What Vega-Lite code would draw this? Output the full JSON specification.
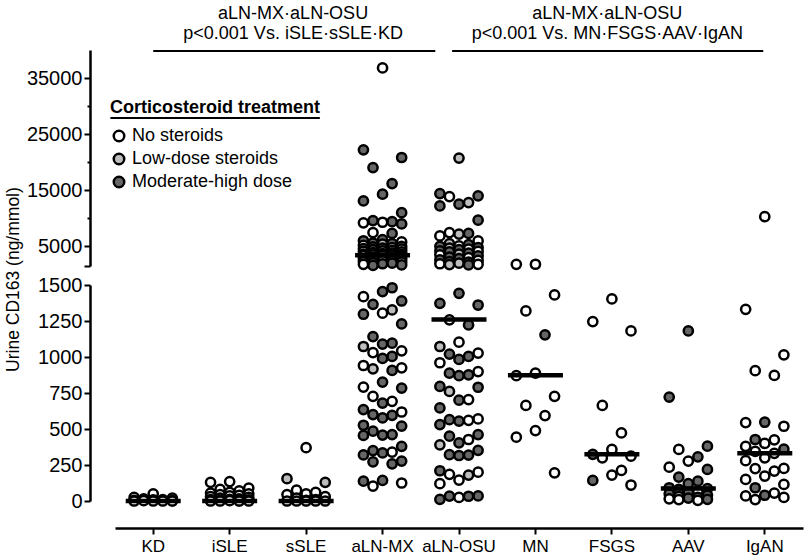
{
  "$schema": "https://vega.github.io/schema/vega-lite/v6.json",
  "padding": {"left": 4, "top": 5, "right": 2, "bottom": 2},
  "bounds": "flush",
  "config": {
    "font": "Liberation Sans",
    "view": {"stroke": null},
    "axis": {"domainColor": "black", "tickColor": "black", "labelColor": "black", "grid": false, "domainWidth": 2.5, "tickWidth": 2, "labelFont": "Liberation Sans"},
    "legend": {"labelFont": "Liberation Sans", "titleFont": "Liberation Sans"}
  },
  "title": {"text": "Urine CD163 (ng/mmol)", "orient": "left", "anchor": "middle", "fontSize": 17.5, "fontWeight": "normal", "color": "black", "offset": 4},
  "datasets": {
    "pts": [
      {"g":"KD","v":50,"s":"N"},{"g":"KD","v":25,"s":"N"},{"g":"KD","v":20,"s":"N"},{"g":"KD","v":15,"s":"N"},{"g":"KD","v":10,"s":"N"},{"g":"KD","v":8,"s":"N"},{"g":"KD","v":5,"s":"N"},{"g":"KD","v":3,"s":"N"},{"g":"KD","v":2,"s":"N"},{"g":"KD","v":0,"s":"N"},{"g":"KD","v":0,"s":"N"},{"g":"KD","v":0,"s":"N"},{"g":"KD","v":0,"s":"N"},
      {"g":"iSLE","v":135,"s":"N"},{"g":"iSLE","v":130,"s":"N"},{"g":"iSLE","v":90,"s":"N"},{"g":"iSLE","v":80,"s":"N"},{"g":"iSLE","v":70,"s":"N"},{"g":"iSLE","v":60,"s":"N"},{"g":"iSLE","v":55,"s":"N"},{"g":"iSLE","v":50,"s":"N"},{"g":"iSLE","v":45,"s":"N"},{"g":"iSLE","v":40,"s":"N"},{"g":"iSLE","v":35,"s":"N"},{"g":"iSLE","v":30,"s":"N"},{"g":"iSLE","v":25,"s":"N"},{"g":"iSLE","v":20,"s":"N"},{"g":"iSLE","v":15,"s":"N"},{"g":"iSLE","v":12,"s":"N"},{"g":"iSLE","v":10,"s":"N"},{"g":"iSLE","v":8,"s":"N"},{"g":"iSLE","v":5,"s":"N"},{"g":"iSLE","v":3,"s":"N"},{"g":"iSLE","v":2,"s":"N"},{"g":"iSLE","v":0,"s":"N"},{"g":"iSLE","v":0,"s":"N"},{"g":"iSLE","v":0,"s":"N"},{"g":"iSLE","v":0,"s":"N"},
      {"g":"sSLE","v":370,"s":"N"},{"g":"sSLE","v":155,"s":"L"},{"g":"sSLE","v":130,"s":"L"},{"g":"sSLE","v":75,"s":"N"},{"g":"sSLE","v":60,"s":"N"},{"g":"sSLE","v":50,"s":"N"},{"g":"sSLE","v":45,"s":"N"},{"g":"sSLE","v":30,"s":"N"},{"g":"sSLE","v":20,"s":"N"},{"g":"sSLE","v":10,"s":"N"},{"g":"sSLE","v":5,"s":"N"},{"g":"sSLE","v":0,"s":"N"},{"g":"sSLE","v":0,"s":"N"},{"g":"sSLE","v":0,"s":"N"},{"g":"sSLE","v":0,"s":"N"},{"g":"sSLE","v":0,"s":"N"},
      {"g":"aLN-MX","v":36800,"s":"N"},{"g":"aLN-MX","v":22200,"s":"M"},{"g":"aLN-MX","v":20840,"s":"M"},{"g":"aLN-MX","v":19050,"s":"M"},{"g":"aLN-MX","v":16200,"s":"M"},{"g":"aLN-MX","v":14300,"s":"M"},{"g":"aLN-MX","v":13100,"s":"M"},{"g":"aLN-MX","v":11000,"s":"M"},{"g":"aLN-MX","v":9600,"s":"M"},{"g":"aLN-MX","v":9400,"s":"M"},{"g":"aLN-MX","v":9300,"s":"N"},{"g":"aLN-MX","v":9200,"s":"N"},{"g":"aLN-MX","v":9000,"s":"M"},{"g":"aLN-MX","v":7450,"s":"N"},{"g":"aLN-MX","v":7300,"s":"M"},{"g":"aLN-MX","v":6200,"s":"M"},{"g":"aLN-MX","v":6000,"s":"M"},{"g":"aLN-MX","v":5800,"s":"N"},{"g":"aLN-MX","v":5600,"s":"M"},{"g":"aLN-MX","v":5500,"s":"M"},{"g":"aLN-MX","v":5400,"s":"L"},{"g":"aLN-MX","v":5200,"s":"N"},{"g":"aLN-MX","v":5000,"s":"M"},{"g":"aLN-MX","v":4900,"s":"M"},{"g":"aLN-MX","v":4800,"s":"N"},{"g":"aLN-MX","v":4700,"s":"M"},{"g":"aLN-MX","v":4600,"s":"M"},{"g":"aLN-MX","v":4500,"s":"N"},{"g":"aLN-MX","v":4400,"s":"M"},{"g":"aLN-MX","v":4300,"s":"M"},{"g":"aLN-MX","v":4200,"s":"L"},{"g":"aLN-MX","v":4100,"s":"N"},{"g":"aLN-MX","v":4000,"s":"M"},{"g":"aLN-MX","v":3900,"s":"M"},{"g":"aLN-MX","v":3800,"s":"N"},{"g":"aLN-MX","v":3700,"s":"M"},{"g":"aLN-MX","v":3600,"s":"N"},{"g":"aLN-MX","v":3550,"s":"M"},{"g":"aLN-MX","v":3500,"s":"N"},{"g":"aLN-MX","v":3450,"s":"M"},{"g":"aLN-MX","v":3400,"s":"M"},{"g":"aLN-MX","v":3300,"s":"N"},{"g":"aLN-MX","v":3200,"s":"M"},{"g":"aLN-MX","v":3100,"s":"M"},{"g":"aLN-MX","v":3000,"s":"N"},{"g":"aLN-MX","v":2900,"s":"M"},{"g":"aLN-MX","v":2800,"s":"M"},{"g":"aLN-MX","v":2700,"s":"N"},{"g":"aLN-MX","v":2600,"s":"M"},{"g":"aLN-MX","v":2500,"s":"M"},{"g":"aLN-MX","v":2400,"s":"L"},{"g":"aLN-MX","v":2300,"s":"M"},{"g":"aLN-MX","v":2200,"s":"N"},{"g":"aLN-MX","v":2100,"s":"M"},{"g":"aLN-MX","v":2000,"s":"M"},{"g":"aLN-MX","v":1900,"s":"M"},{"g":"aLN-MX","v":1800,"s":"N"},{"g":"aLN-MX","v":1700,"s":"M"},{"g":"aLN-MX","v":1600,"s":"M"},
      {"g":"aLN-MX","v":1481,"s":"M"},{"g":"aLN-MX","v":1454,"s":"M"},{"g":"aLN-MX","v":1419,"s":"N"},{"g":"aLN-MX","v":1389,"s":"M"},{"g":"aLN-MX","v":1366,"s":"M"},{"g":"aLN-MX","v":1327,"s":"L"},{"g":"aLN-MX","v":1304,"s":"N"},{"g":"aLN-MX","v":1297,"s":"M"},{"g":"aLN-MX","v":1230,"s":"M"},{"g":"aLN-MX","v":1142,"s":"M"},{"g":"aLN-MX","v":1096,"s":"M"},{"g":"aLN-MX","v":1090,"s":"M"},{"g":"aLN-MX","v":1073,"s":"L"},{"g":"aLN-MX","v":1043,"s":"N"},{"g":"aLN-MX","v":1031,"s":"N"},{"g":"aLN-MX","v":1004,"s":"M"},{"g":"aLN-MX","v":990,"s":"M"},{"g":"aLN-MX","v":941,"s":"N"},{"g":"aLN-MX","v":925,"s":"N"},{"g":"aLN-MX","v":918,"s":"L"},{"g":"aLN-MX","v":907,"s":"M"},{"g":"aLN-MX","v":826,"s":"M"},{"g":"aLN-MX","v":791,"s":"N"},{"g":"aLN-MX","v":784,"s":"M"},{"g":"aLN-MX","v":727,"s":"N"},{"g":"aLN-MX","v":692,"s":"N"},{"g":"aLN-MX","v":680,"s":"M"},{"g":"aLN-MX","v":635,"s":"M"},{"g":"aLN-MX","v":618,"s":"N"},{"g":"aLN-MX","v":600,"s":"M"},{"g":"aLN-MX","v":595,"s":"M"},{"g":"aLN-MX","v":577,"s":"M"},{"g":"aLN-MX","v":526,"s":"M"},{"g":"aLN-MX","v":520,"s":"M"},{"g":"aLN-MX","v":485,"s":"M"},{"g":"aLN-MX","v":461,"s":"M"},{"g":"aLN-MX","v":458,"s":"M"},{"g":"aLN-MX","v":455,"s":"M"},{"g":"aLN-MX","v":380,"s":"M"},{"g":"aLN-MX","v":350,"s":"M"},{"g":"aLN-MX","v":340,"s":"N"},{"g":"aLN-MX","v":334,"s":"M"},{"g":"aLN-MX","v":320,"s":"M"},{"g":"aLN-MX","v":277,"s":"M"},{"g":"aLN-MX","v":272,"s":"M"},{"g":"aLN-MX","v":258,"s":"M"},{"g":"aLN-MX","v":143,"s":"M"},{"g":"aLN-MX","v":138,"s":"M"},{"g":"aLN-MX","v":125,"s":"N"},{"g":"aLN-MX","v":104,"s":"N"},
      {"g":"aLN-OSU","v":20730,"s":"L"},{"g":"aLN-OSU","v":14410,"s":"M"},{"g":"aLN-OSU","v":14000,"s":"M"},{"g":"aLN-OSU","v":13880,"s":"N"},{"g":"aLN-OSU","v":12800,"s":"L"},{"g":"aLN-OSU","v":12520,"s":"M"},{"g":"aLN-OSU","v":12210,"s":"M"},{"g":"aLN-OSU","v":9660,"s":"M"},{"g":"aLN-OSU","v":7450,"s":"N"},{"g":"aLN-OSU","v":7300,"s":"M"},{"g":"aLN-OSU","v":7200,"s":"L"},{"g":"aLN-OSU","v":6860,"s":"N"},{"g":"aLN-OSU","v":5960,"s":"N"},{"g":"aLN-OSU","v":5480,"s":"L"},{"g":"aLN-OSU","v":5300,"s":"M"},{"g":"aLN-OSU","v":5100,"s":"N"},{"g":"aLN-OSU","v":5000,"s":"M"},{"g":"aLN-OSU","v":4800,"s":"M"},{"g":"aLN-OSU","v":4700,"s":"L"},{"g":"aLN-OSU","v":4500,"s":"N"},{"g":"aLN-OSU","v":4400,"s":"M"},{"g":"aLN-OSU","v":4200,"s":"M"},{"g":"aLN-OSU","v":4100,"s":"N"},{"g":"aLN-OSU","v":4000,"s":"M"},{"g":"aLN-OSU","v":3800,"s":"M"},{"g":"aLN-OSU","v":3600,"s":"L"},{"g":"aLN-OSU","v":3500,"s":"N"},{"g":"aLN-OSU","v":3300,"s":"M"},{"g":"aLN-OSU","v":3100,"s":"M"},{"g":"aLN-OSU","v":3000,"s":"N"},{"g":"aLN-OSU","v":2800,"s":"M"},{"g":"aLN-OSU","v":2600,"s":"M"},{"g":"aLN-OSU","v":2500,"s":"N"},{"g":"aLN-OSU","v":2300,"s":"M"},{"g":"aLN-OSU","v":2200,"s":"M"},{"g":"aLN-OSU","v":2000,"s":"L"},{"g":"aLN-OSU","v":1900,"s":"N"},{"g":"aLN-OSU","v":1800,"s":"N"},{"g":"aLN-OSU","v":1750,"s":"L"},{"g":"aLN-OSU","v":1700,"s":"M"},
      {"g":"aLN-OSU","v":1442,"s":"M"},{"g":"aLN-OSU","v":1373,"s":"M"},{"g":"aLN-OSU","v":1361,"s":"M"},{"g":"aLN-OSU","v":1258,"s":"N"},{"g":"aLN-OSU","v":1223,"s":"M"},{"g":"aLN-OSU","v":1103,"s":"N"},{"g":"aLN-OSU","v":1073,"s":"L"},{"g":"aLN-OSU","v":1027,"s":"N"},{"g":"aLN-OSU","v":1020,"s":"M"},{"g":"aLN-OSU","v":1004,"s":"M"},{"g":"aLN-OSU","v":983,"s":"M"},{"g":"aLN-OSU","v":960,"s":"N"},{"g":"aLN-OSU","v":899,"s":"N"},{"g":"aLN-OSU","v":888,"s":"M"},{"g":"aLN-OSU","v":876,"s":"M"},{"g":"aLN-OSU","v":870,"s":"M"},{"g":"aLN-OSU","v":796,"s":"M"},{"g":"aLN-OSU","v":790,"s":"M"},{"g":"aLN-OSU","v":761,"s":"L"},{"g":"aLN-OSU","v":704,"s":"N"},{"g":"aLN-OSU","v":700,"s":"M"},{"g":"aLN-OSU","v":646,"s":"M"},{"g":"aLN-OSU","v":570,"s":"N"},{"g":"aLN-OSU","v":565,"s":"M"},{"g":"aLN-OSU","v":560,"s":"N"},{"g":"aLN-OSU","v":555,"s":"M"},{"g":"aLN-OSU","v":531,"s":"M"},{"g":"aLN-OSU","v":461,"s":"M"},{"g":"aLN-OSU","v":450,"s":"M"},{"g":"aLN-OSU","v":427,"s":"N"},{"g":"aLN-OSU","v":404,"s":"M"},{"g":"aLN-OSU","v":390,"s":"L"},{"g":"aLN-OSU","v":352,"s":"M"},{"g":"aLN-OSU","v":322,"s":"M"},{"g":"aLN-OSU","v":319,"s":"M"},{"g":"aLN-OSU","v":316,"s":"M"},{"g":"aLN-OSU","v":210,"s":"M"},{"g":"aLN-OSU","v":200,"s":"N"},{"g":"aLN-OSU","v":185,"s":"N"},{"g":"aLN-OSU","v":180,"s":"L"},{"g":"aLN-OSU","v":145,"s":"N"},{"g":"aLN-OSU","v":120,"s":"N"},{"g":"aLN-OSU","v":35,"s":"M"},{"g":"aLN-OSU","v":34,"s":"M"},{"g":"aLN-OSU","v":33,"s":"M"},{"g":"aLN-OSU","v":25,"s":"N"},{"g":"aLN-OSU","v":12,"s":"M"},
      {"g":"MN","v":1810,"s":"N"},{"g":"MN","v":1800,"s":"N"},{"g":"MN","v":1431,"s":"N"},{"g":"MN","v":1320,"s":"N"},{"g":"MN","v":1154,"s":"M"},{"g":"MN","v":888,"s":"N"},{"g":"MN","v":870,"s":"N"},{"g":"MN","v":727,"s":"N"},{"g":"MN","v":664,"s":"N"},{"g":"MN","v":593,"s":"N"},{"g":"MN","v":489,"s":"N"},{"g":"MN","v":443,"s":"N"},{"g":"MN","v":196,"s":"N"},
      {"g":"FSGS","v":1403,"s":"N"},{"g":"FSGS","v":1246,"s":"N"},{"g":"FSGS","v":1181,"s":"N"},{"g":"FSGS","v":664,"s":"N"},{"g":"FSGS","v":473,"s":"N"},{"g":"FSGS","v":358,"s":"N"},{"g":"FSGS","v":324,"s":"M"},{"g":"FSGS","v":311,"s":"N"},{"g":"FSGS","v":300,"s":"N"},{"g":"FSGS","v":212,"s":"N"},{"g":"FSGS","v":180,"s":"N"},{"g":"FSGS","v":143,"s":"M"},{"g":"FSGS","v":111,"s":"N"},
      {"g":"AAV","v":1181,"s":"M"},{"g":"AAV","v":722,"s":"M"},{"g":"AAV","v":381,"s":"M"},{"g":"AAV","v":358,"s":"N"},{"g":"AAV","v":307,"s":"M"},{"g":"AAV","v":277,"s":"N"},{"g":"AAV","v":235,"s":"N"},{"g":"AAV","v":219,"s":"M"},{"g":"AAV","v":166,"s":"M"},{"g":"AAV","v":138,"s":"M"},{"g":"AAV","v":120,"s":"M"},{"g":"AAV","v":92,"s":"M"},{"g":"AAV","v":86,"s":"M"},{"g":"AAV","v":80,"s":"M"},{"g":"AAV","v":70,"s":"N"},{"g":"AAV","v":60,"s":"M"},{"g":"AAV","v":50,"s":"M"},{"g":"AAV","v":40,"s":"M"},{"g":"AAV","v":30,"s":"N"},{"g":"AAV","v":25,"s":"M"},{"g":"AAV","v":20,"s":"M"},{"g":"AAV","v":15,"s":"N"},{"g":"AAV","v":12,"s":"M"},{"g":"AAV","v":10,"s":"N"},{"g":"AAV","v":5,"s":"N"},
      {"g":"IgAN","v":10300,"s":"N"},{"g":"IgAN","v":1331,"s":"N"},{"g":"IgAN","v":1015,"s":"N"},{"g":"IgAN","v":905,"s":"N"},{"g":"IgAN","v":872,"s":"N"},{"g":"IgAN","v":547,"s":"M"},{"g":"IgAN","v":545,"s":"N"},{"g":"IgAN","v":519,"s":"N"},{"g":"IgAN","v":427,"s":"M"},{"g":"IgAN","v":425,"s":"N"},{"g":"IgAN","v":400,"s":"N"},{"g":"IgAN","v":380,"s":"N"},{"g":"IgAN","v":360,"s":"M"},{"g":"IgAN","v":345,"s":"N"},{"g":"IgAN","v":331,"s":"N"},{"g":"IgAN","v":300,"s":"N"},{"g":"IgAN","v":280,"s":"N"},{"g":"IgAN","v":226,"s":"N"},{"g":"IgAN","v":225,"s":"N"},{"g":"IgAN","v":208,"s":"N"},{"g":"IgAN","v":173,"s":"N"},{"g":"IgAN","v":150,"s":"N"},{"g":"IgAN","v":115,"s":"N"},{"g":"IgAN","v":92,"s":"M"},{"g":"IgAN","v":55,"s":"N"},{"g":"IgAN","v":40,"s":"M"},{"g":"IgAN","v":35,"s":"N"},{"g":"IgAN","v":25,"s":"N"},{"g":"IgAN","v":10,"s":"N"}
    ],
    "med": [
      {"g":"KD","m":0},{"g":"iSLE","m":0},{"g":"sSLE","m":0},{"g":"aLN-MX","m":3400},{"g":"aLN-OSU","m":1260},{"g":"MN","m":873},{"g":"FSGS","m":324},{"g":"AAV","m":86},{"g":"IgAN","m":331}
    ],
    "ann": [
      {"t":"aLN-MX·aLN-OSU","xi":2.33,"yv":46400},
      {"t":"p<0.001 Vs. iSLE·sSLE·KD","xi":2.33,"yv":42900},
      {"t":"aLN-MX·aLN-OSU","xi":6.44,"yv":46400},
      {"t":"p<0.001 Vs. MN·FSGS·AAV·IgAN","xi":6.44,"yv":42900}
    ],
    "annr": [
      {"x1":0.5,"x2":4.19,"yv":39800},
      {"x1":4.41,"x2":8.48,"yv":39800},
      {"x1":-0.06,"x2":2.68,"yv":27900}
    ]
  },
  "spacing": 19,
  "vconcat": [
    {
      "width": 688,
      "height": 216,
      "resolve": {"scale": {"x": "independent"}},
      "layer": [
        {
          "data": {"name": "pts"},
          "transform": [
            {"window": [{"op": "row_number", "as": "rn"}], "groupby": ["g"], "sort": [{"field": "v", "order": "descending"}]},
            {"calculate": "[0,-2,2,-1,1][(datum.rn-1)%5]", "as": "slot"},
            {"filter": "datum.v >= 1500"}
          ],
          "mark": {"type": "circle", "stroke": "black", "strokeWidth": 2.5, "size": 85, "opacity": 1},
          "encoding": {
            "x": {"field": "g", "type": "nominal", "sort": null, "scale": {"domain": ["KD","iSLE","sSLE","aLN-MX","aLN-OSU","MN","FSGS","AAV","IgAN"], "paddingInner": 0, "paddingOuter": 0}, "axis": null},
            "xOffset": {"field": "slot", "type": "quantitative", "scale": {"domain": [-4, 4]}},
            "y": {"field": "v", "type": "quantitative", "scale": {"domain": [1500, 40000], "nice": false, "zero": false},
              "axis": {"title": null, "offset": 25, "values": [1500,5000,10000,15000,20000,25000,30000,35000], "labelExpr": "datum.value % 10000 == 5000 ? datum.value : ''", "tickSize": {"condition": {"test": "datum.value % 10000 == 5000 || datum.value == 1500", "value": 6}, "value": 3}, "labelFontSize": 20, "labelPadding": 2}},
            "fill": {"field": "s", "type": "nominal", "scale": {"domain": ["N","L","M"], "range": ["#ffffff","#bdbdbd","#666666"]},
              "legend": {"orient": "none", "legendX": -5, "legendY": 49, "title": "Corticosteroid treatment", "titleLimit": 400, "titleFontSize": 18, "titleFontWeight": "bold", "titleColor": "black", "titlePadding": 10, "labelFontSize": 18, "labelLimit": 400, "labelColor": "black", "rowPadding": 1, "symbolType": "circle", "symbolSize": 110, "symbolStrokeColor": "black", "symbolStrokeWidth": 2.5, "labelExpr": "datum.value == 'N' ? 'No steroids' : datum.value == 'L' ? 'Low-dose steroids' : 'Moderate-high dose'"}}
          }
        },
        {
          "data": {"name": "med"},
          "transform": [{"filter": "datum.m >= 1500"}],
          "mark": {"type": "tick", "color": "black", "thickness": 4.5, "size": 55, "opacity": 1},
          "encoding": {
            "x": {"field": "g", "type": "nominal", "sort": null, "scale": {"domain": ["KD","iSLE","sSLE","aLN-MX","aLN-OSU","MN","FSGS","AAV","IgAN"], "paddingInner": 0, "paddingOuter": 0}, "axis": null},
            "y": {"field": "m", "type": "quantitative", "scale": {"domain": [1500, 40000], "nice": false, "zero": false},
              "axis": {"title": null, "offset": 25, "values": [1500,5000,10000,15000,20000,25000,30000,35000], "labelExpr": "datum.value % 10000 == 5000 ? datum.value : ''", "tickSize": {"condition": {"test": "datum.value % 10000 == 5000 || datum.value == 1500", "value": 6}, "value": 3}, "labelFontSize": 20, "labelPadding": 2}}
          }
        },
        {
          "data": {"name": "ann"},
          "mark": {"type": "text", "fontSize": 18, "color": "black", "baseline": "middle", "align": "center"},
          "encoding": {
            "x": {"field": "xi", "type": "quantitative", "scale": {"domain": [0, 9], "nice": false, "zero": false}, "axis": null},
            "y": {"field": "yv", "type": "quantitative", "scale": {"domain": [1500, 40000], "nice": false, "zero": false},
              "axis": {"title": null, "offset": 25, "values": [1500,5000,10000,15000,20000,25000,30000,35000], "labelExpr": "datum.value % 10000 == 5000 ? datum.value : ''", "tickSize": {"condition": {"test": "datum.value % 10000 == 5000 || datum.value == 1500", "value": 6}, "value": 3}, "labelFontSize": 20, "labelPadding": 2}},
            "text": {"field": "t"}
          }
        },
        {
          "data": {"name": "annr"},
          "mark": {"type": "rule", "color": "black", "strokeWidth": 2},
          "encoding": {
            "x": {"field": "x1", "type": "quantitative", "scale": {"domain": [0, 9], "nice": false, "zero": false}, "axis": null},
            "x2": {"field": "x2"},
            "y": {"field": "yv", "type": "quantitative", "scale": {"domain": [1500, 40000], "nice": false, "zero": false},
              "axis": {"title": null, "offset": 25, "values": [1500,5000,10000,15000,20000,25000,30000,35000], "labelExpr": "datum.value % 10000 == 5000 ? datum.value : ''", "tickSize": {"condition": {"test": "datum.value % 10000 == 5000 || datum.value == 1500", "value": 6}, "value": 3}, "labelFontSize": 20, "labelPadding": 2}}
          }
        }
      ]
    },
    {
      "width": 688,
      "height": 216,
      "layer": [
        {
          "data": {"name": "pts"},
          "transform": [
            {"window": [{"op": "row_number", "as": "rn"}], "groupby": ["g"], "sort": [{"field": "v", "order": "descending"}]},
            {"calculate": "[0,-2,2,-1,1][(datum.rn-1)%5]", "as": "slot"},
            {"filter": "datum.v < 1500"}
          ],
          "mark": {"type": "circle", "stroke": "black", "strokeWidth": 2.5, "size": 85, "opacity": 1},
          "encoding": {
            "x": {"field": "g", "type": "nominal", "sort": null, "scale": {"domain": ["KD","iSLE","sSLE","aLN-MX","aLN-OSU","MN","FSGS","AAV","IgAN"], "paddingInner": 0, "paddingOuter": 0},
              "axis": {"title": null, "offset": 27, "labelAngle": 0, "labelFontSize": 17, "labelPadding": 4, "tickSize": 6, "labelOverlap": false}},
            "xOffset": {"field": "slot", "type": "quantitative", "scale": {"domain": [-4, 4]}},
            "y": {"field": "v", "type": "quantitative", "scale": {"domain": [0, 1500], "nice": false, "zero": false},
              "axis": {"title": null, "offset": 25, "values": [0,250,500,750,1000,1250,1500], "format": "d", "tickSize": 6, "labelFontSize": 20, "labelPadding": 2}},
            "fill": {"field": "s", "type": "nominal", "scale": {"domain": ["N","L","M"], "range": ["#ffffff","#bdbdbd","#666666"]},
              "legend": {"orient": "none", "legendX": -5, "legendY": 49, "title": "Corticosteroid treatment", "titleLimit": 400, "titleFontSize": 18, "titleFontWeight": "bold", "titleColor": "black", "titlePadding": 10, "labelFontSize": 18, "labelLimit": 400, "labelColor": "black", "rowPadding": 1, "symbolType": "circle", "symbolSize": 110, "symbolStrokeColor": "black", "symbolStrokeWidth": 2.5, "labelExpr": "datum.value == 'N' ? 'No steroids' : datum.value == 'L' ? 'Low-dose steroids' : 'Moderate-high dose'"}}
          }
        },
        {
          "data": {"name": "med"},
          "transform": [{"filter": "datum.m < 1500"}],
          "mark": {"type": "tick", "color": "black", "thickness": 4.5, "size": 55, "opacity": 1},
          "encoding": {
            "x": {"field": "g", "type": "nominal", "sort": null, "scale": {"domain": ["KD","iSLE","sSLE","aLN-MX","aLN-OSU","MN","FSGS","AAV","IgAN"], "paddingInner": 0, "paddingOuter": 0},
              "axis": {"title": null, "offset": 27, "labelAngle": 0, "labelFontSize": 17, "labelPadding": 4, "tickSize": 6, "labelOverlap": false}},
            "y": {"field": "m", "type": "quantitative", "scale": {"domain": [0, 1500], "nice": false, "zero": false},
              "axis": {"title": null, "offset": 25, "values": [0,250,500,750,1000,1250,1500], "format": "d", "tickSize": 6, "labelFontSize": 20, "labelPadding": 2}}
          }
        }
      ]
    }
  ]
}
